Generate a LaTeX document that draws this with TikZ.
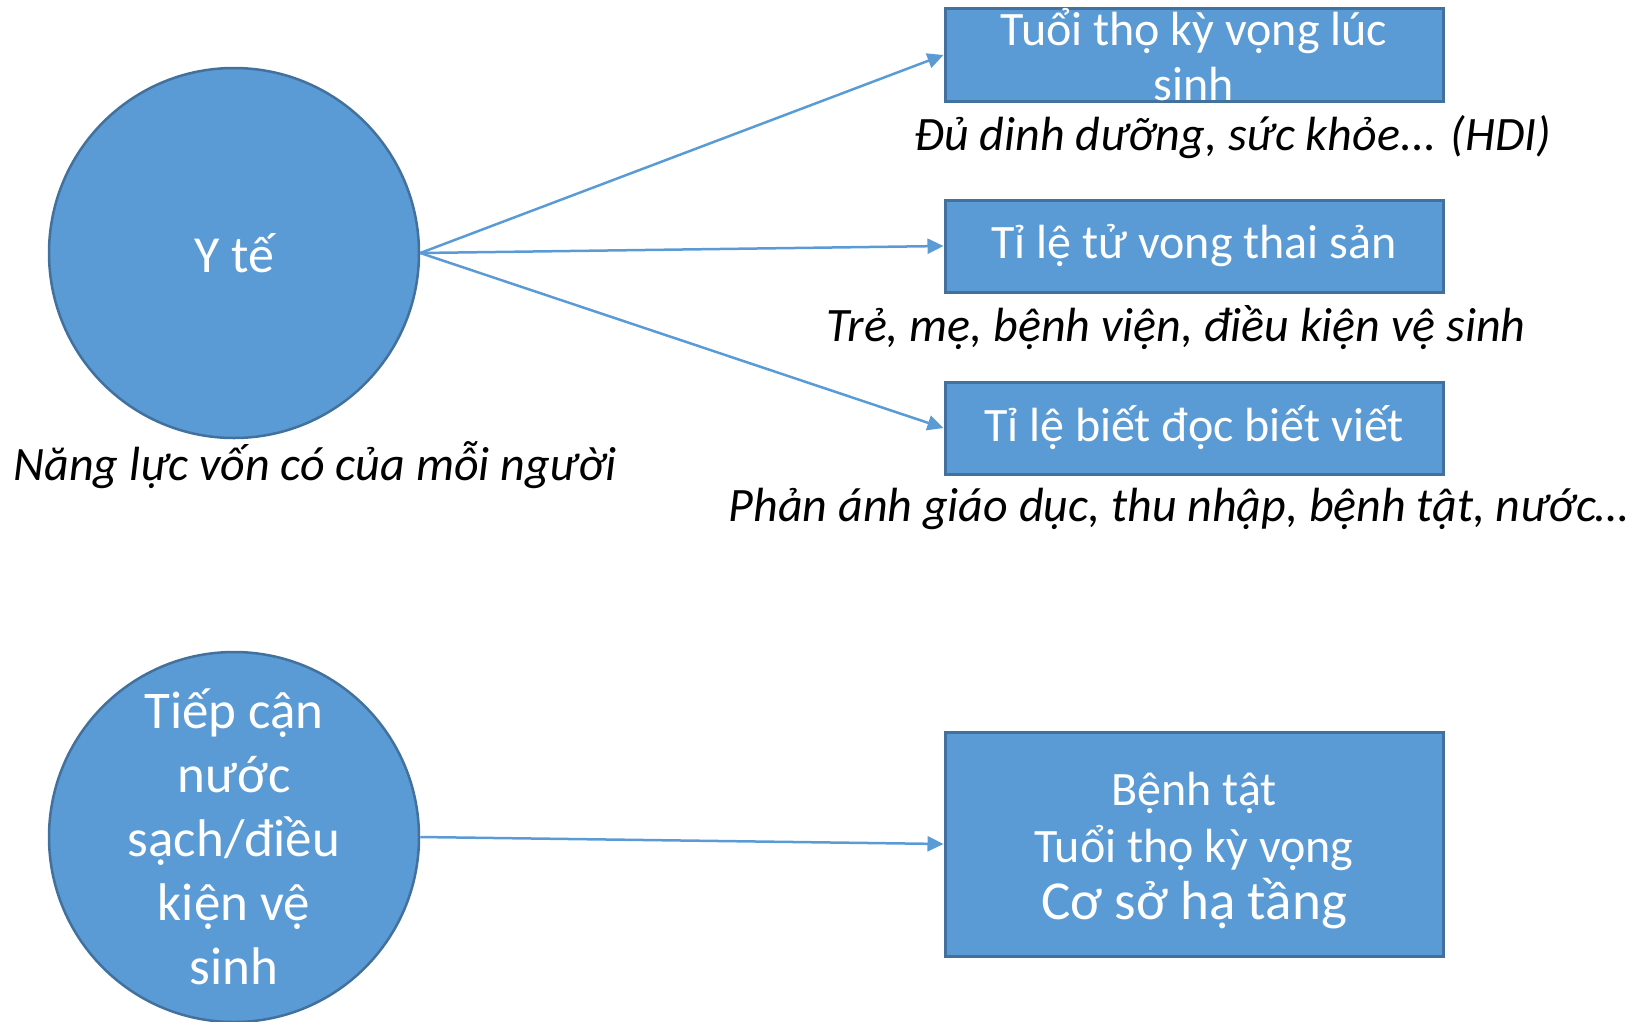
\documentclass[tikz,border=0pt]{standalone}
\usepackage{fontspec}
\setmainfont{Carlito}
\usetikzlibrary{arrows.meta}
\definecolor{fillblue}{HTML}{5B9BD5}
\definecolor{edgeblue}{HTML}{41719C}
\tikzset{
  circnode/.style={circle, fill=fillblue, draw=edgeblue, line width=2.5pt, minimum size=370pt, inner sep=0pt, text=white, align=center},
  boxnode/.style={rectangle, fill=fillblue, draw=edgeblue, line width=3pt, minimum width=498pt, inner sep=0pt, text=white, align=center, font=\fontsize{48}{55}\selectfont},
  note/.style={font=\fontsize{48}{56}\selectfont\itshape, text=black, inner sep=0pt},
  conn/.style={draw=fillblue, line width=2.5pt, -{Triangle[length=16pt,width=15pt]}}
}
\begin{document}
\begin{tikzpicture}[x=1pt,y=-1pt]
\useasboundingbox (0,0) rectangle (1645,1021);
\clip (0,0) rectangle (1645,1021);
\node[circnode, font=\fontsize{52}{64}\selectfont] (c1) at (234,253) {Y tế};
\node[circnode, font=\fontsize{53}{64}\selectfont] (c2) at (234,837) {Tiếp cận\\nước\\sạch/điều\\kiện vệ\\sinh};
\node[boxnode, minimum height=93pt] (b1) at (1194,55) {Tuổi thọ kỳ vọng lúc\\sinh};
\node[boxnode, minimum height=92pt] (b2) at (1194,246) {Tỉ lệ tử vong thai sản};
\node[boxnode, minimum height=92pt] (b3) at (1194,428) {Tỉ lệ biết đọc biết viết};
\node[boxnode, minimum height=224pt, font=\fontsize{48}{57}\selectfont] (b4) at (1194,844) {\rule{0pt}{46pt}Bệnh tật\\Tuổi thọ kỳ vọng\\{\fontsize{55}{57}\selectfont Cơ sở hạ tầng}};
\node[note] (n1) at (1233,137) {Đủ dinh dưỡng, sức khỏe... (HDI)};
\node[note] (n2) at (1176,328) {Trẻ, mẹ, bệnh viện, điều kiện vệ sinh};
\node[note] (n3) at (1179,509) {Phản ánh giáo dục, thu nhập, bệnh tật, nước…};
\node[note] (n0) at (315,465) {Năng lực vốn có của mỗi người};
\draw[conn] (c1.east) -- (b1.west);
\draw[conn] (c1.east) -- (b2.west);
\draw[conn] (c1.east) -- (b3.west);
\draw[conn] (c2.east) -- (b4.west);
\end{tikzpicture}
\end{document}
